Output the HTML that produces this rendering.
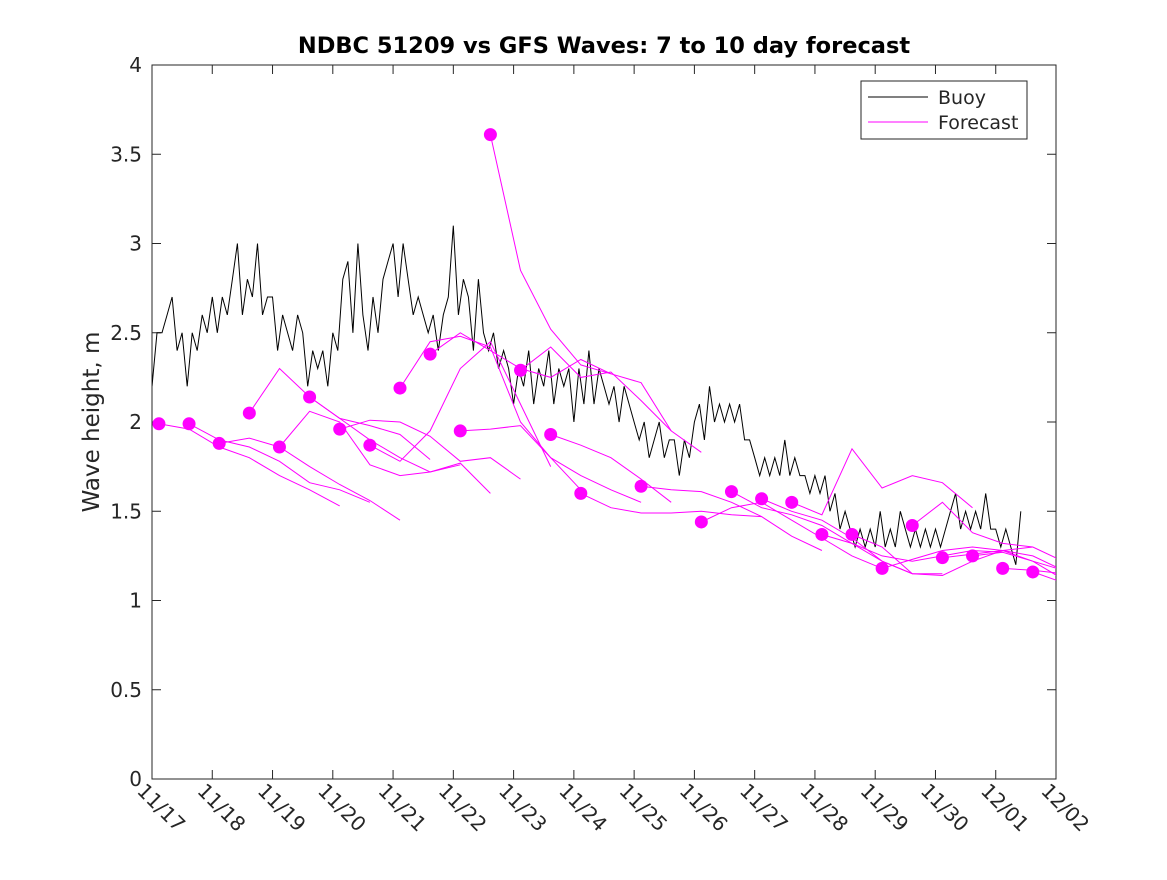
<!DOCTYPE html>
<html><head><meta charset="utf-8"><style>
body{margin:0;background:#fff;}
svg text{font-family:"DejaVu Sans","Liberation Sans",sans-serif;fill:#262626;}
</style></head><body>
<svg id="chart" width="1167" height="875" viewBox="0 0 1167 875" xmlns="http://www.w3.org/2000/svg">
<rect width="1167" height="875" fill="#fff"/>
<text x="604" y="53" text-anchor="middle" font-size="22.5" font-weight="bold" style="fill:#000">NDBC 51209 vs GFS Waves: 7 to 10 day forecast</text>
<text transform="translate(99,422) rotate(-90)" text-anchor="middle" font-size="23">Wave height, m</text>
<g id="plot"></g>
</svg>
<script>
const xTickLabels=["11/17","11/18","11/19","11/20","11/21","11/22","11/23","11/24","11/25","11/26","11/27","11/28","11/29","11/30","12/01","12/02"];
const yTicks=[0,0.5,1,1.5,2,2.5,3,3.5,4];
const yTickLabels=["0","0.5","1","1.5","2","2.5","3","3.5","4"];
const buoyStep=1/12;
const buoy=[
2.2,2.5,2.5,2.6,2.7,2.4,2.5,2.2,2.5,2.4,2.6,2.5,
2.7,2.5,2.7,2.6,2.8,3.0,2.6,2.8,2.7,3.0,2.6,2.7,
2.7,2.4,2.6,2.5,2.4,2.6,2.5,2.2,2.4,2.3,2.4,2.2,
2.5,2.4,2.8,2.9,2.5,3.0,2.6,2.4,2.7,2.5,2.8,2.9,
3.0,2.7,3.0,2.8,2.6,2.7,2.6,2.5,2.6,2.4,2.6,2.7,
3.1,2.6,2.8,2.7,2.4,2.8,2.5,2.4,2.5,2.3,2.4,2.3,
2.1,2.3,2.2,2.4,2.1,2.3,2.2,2.4,2.1,2.3,2.2,2.3,
2.0,2.3,2.1,2.4,2.1,2.3,2.2,2.1,2.2,2.0,2.2,2.1,
2.0,1.9,2.0,1.8,1.9,2.0,1.8,1.9,1.9,1.7,1.9,1.8,
2.0,2.1,1.9,2.2,2.0,2.1,2.0,2.1,2.0,2.1,1.9,1.9,
1.8,1.7,1.8,1.7,1.8,1.7,1.9,1.7,1.8,1.7,1.7,1.6,
1.7,1.6,1.7,1.5,1.6,1.4,1.5,1.4,1.3,1.4,1.3,1.4,
1.3,1.5,1.3,1.4,1.3,1.5,1.4,1.3,1.4,1.3,1.4,1.3,
1.4,1.3,1.4,1.5,1.6,1.4,1.5,1.4,1.5,1.4,1.6,1.4,
1.4,1.3,1.4,1.3,1.2,1.5];
const fcStart=[0,1,2,3,4,5,6,7,8,9,10,11,12,13,14,16,18,19,20,21,22,23,24,25,26,27,28,29];
const fcValues=[
[1.99,1.96,1.86,1.80,1.70,1.62,1.53],
[1.99,1.90,1.86,1.78,1.66,1.62,1.55],
[1.88,1.91,1.86,1.75,1.65,1.56,1.45],
[2.05,2.30,2.14,2.02,1.98,1.93,1.79],
[1.86,2.06,2.00,1.76,1.70,1.72,1.76],
[2.14,2.02,1.90,1.80,1.72,1.77,1.60],
[1.96,2.01,2.00,1.92,1.78,1.80,1.68],
[1.87,1.78,1.95,2.30,2.45,2.10,1.75],
[2.19,2.45,2.48,2.42,2.00,1.80,1.62],
[2.38,2.50,2.40,2.30,2.25,2.35,2.27],
[1.95,1.96,1.98,1.80,1.70,1.62,1.55],
[3.61,2.85,2.52,2.32,2.27,2.22,1.95],
[2.29,2.42,2.25,2.28,2.12,1.95,1.83],
[1.93,1.87,1.80,1.68,1.55],
[1.60,1.52,1.49,1.49,1.50,1.48,1.47],
[1.64,1.62,1.61,1.55,1.47,1.36,1.28],
[1.44,1.52,1.55,1.45,1.35,1.25,1.18],
[1.61,1.52,1.48,1.42,1.32,1.22,1.15],
[1.57,1.50,1.45,1.35,1.22,1.15,1.15],
[1.55,1.48,1.85,1.63,1.70,1.66,1.52],
[1.37,1.32,1.25,1.22,1.25,1.28,1.27],
[1.37,1.30,1.15,1.14,1.22,1.28,1.30],
[1.18,1.23,1.28,1.30,1.28,1.22,1.17],
[1.42,1.55,1.38,1.32,1.30,1.22,1.17],
[1.24,1.26,1.28,1.25,1.17],
[1.25,1.27,1.22,1.12],
[1.18,1.17,1.15],
[1.16,1.10]
];
const X0=152,X1=1056,Y0=779,Y1=65,DAYS=15,YMAX=4;
const xs=d=>X0+(X1-X0)*d/DAYS;
const ys=v=>Y0-(Y0-Y1)*v/YMAX;
const NS="http://www.w3.org/2000/svg";
const plot=document.getElementById('plot');
function mk(tag,attrs,parent){const e=document.createElementNS(NS,tag);for(const k in attrs)e.setAttribute(k,attrs[k]);(parent||plot).appendChild(e);return e;}
const clip=mk('clipPath',{id:'pc'});mk('rect',{x:X0,y:Y1,width:X1-X0,height:Y0-Y1},clip);
const axes=mk('rect',{x:X0,y:Y1,width:X1-X0,height:Y0-Y1,fill:'none',stroke:'#262626','stroke-width':1});


yTicks.forEach((v,i)=>{const y=ys(v);
mk('line',{x1:X0,x2:X0+9,y1:y,y2:y,stroke:'#262626'});mk('line',{x1:X1,x2:X1-9,y1:y,y2:y,stroke:'#262626'});
const t=mk('text',{x:X0-10,y:y+7,'text-anchor':'end','font-size':20});t.textContent=yTickLabels[i];

});
xTickLabels.forEach((l,i)=>{const x=xs(i);
mk('line',{x1:x,x2:x,y1:Y0,y2:Y0-9,stroke:'#262626'});mk('line',{x1:x,x2:x,y1:Y1,y2:Y1+9,stroke:'#262626'});
const t=mk('text',{x:0,y:0,'font-size':20,transform:`translate(${x-16},${Y0+13}) rotate(45)`});t.textContent=l;

});
const g=mk('g',{'clip-path':'url(#pc)'});
const bp=buoy.map((v,i)=>`${xs(i*buoyStep).toFixed(1)},${ys(v).toFixed(1)}`).join(' ');
const bl=mk('polyline',{points:bp,fill:'none',stroke:'#000','stroke-width':1},g);


fcValues.forEach((arr,j)=>{const d0=0.115+0.5*fcStart[j];
const p=arr.map((v,i)=>`${xs(d0+0.5*i).toFixed(1)},${ys(v).toFixed(1)}`).join(' ');
const l=mk('polyline',{points:p,fill:'none',stroke:'#ff00ff','stroke-width':1},g);


const c=mk('circle',{cx:xs(d0),cy:ys(arr[0]),r:6.5,fill:'#ff00ff'},g);

});
const lg=mk('g',{});


mk('rect',{x:861,y:81,width:166,height:58,fill:'#fff',stroke:'#262626'},lg);
mk('line',{x1:868,x2:928,y1:97,y2:97,stroke:'#000'},lg);
mk('line',{x1:868,x2:928,y1:122,y2:122,stroke:'#ff00ff'},lg);
const t1=mk('text',{x:938,y:104,'font-size':19},lg);t1.textContent='Buoy';


const t2=mk('text',{x:938,y:129,'font-size':19},lg);t2.textContent='Forecast';


</script>
</body></html>
